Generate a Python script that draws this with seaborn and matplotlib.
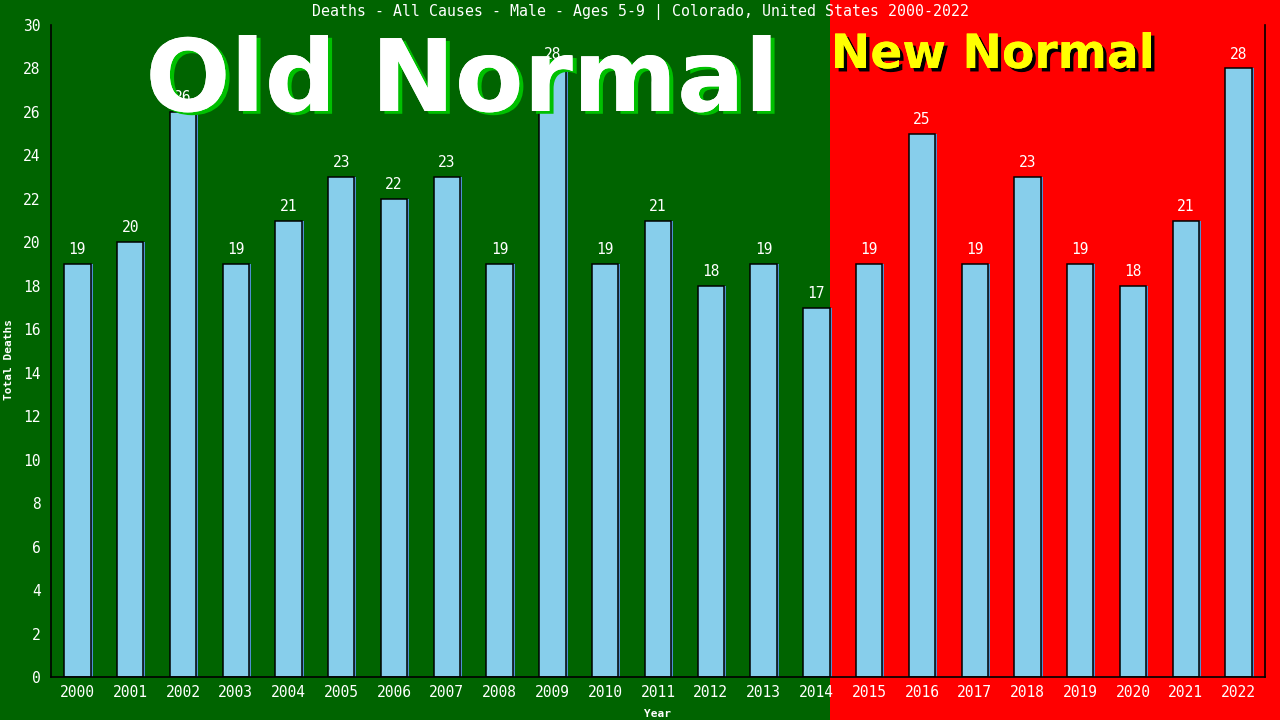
import matplotlib
matplotlib.use("Agg")
import matplotlib.pyplot as plt
import matplotlib.patheffects as pe
import matplotlib.transforms as mtransforms
from matplotlib.patches import Rectangle
import seaborn as sns
import pandas as pd

# data
years = [str(y) for y in range(2000, 2023)]
deaths = [19, 20, 26, 19, 21, 23, 22, 23, 19, 28, 19, 21, 18, 19, 17,
          19, 25, 19, 23, 19, 18, 21, 28]
title = "Deaths - All Causes - Male - Ages 5-9 | Colorado, United States 2000-2022"
split_year = "2014"

df = pd.DataFrame({"Year": years, "Deaths": deaths})

sns.set_style("white")
mono = ["DejaVu Sans Mono"]

fig = plt.figure(figsize=(12.8, 7.2), dpi=100)
fig.patch.set_facecolor("#006400")
ax = fig.add_axes([51 / 1280, 43 / 720, 1214 / 1280, 652 / 720])
ax.set_facecolor("none")

# shadow bars, shifted a couple of pixels right
sns.barplot(data=df, x="Year", y="Deaths", ax=ax, color="#4f8fd0",
            width=0.5, saturation=1, linewidth=0)
shift = mtransforms.ScaledTranslation(2 / 100, 0, fig.dpi_scale_trans)
for p in ax.patches:
    p.set_transform(ax.transData + shift)
n_shadow = len(ax.patches)
sns.barplot(data=df, x="Year", y="Deaths", ax=ax, color="#87CEEB",
            width=0.5, saturation=1, edgecolor="black", linewidth=1.1)
bars = ax.patches[n_shadow:]

ax.set_xlim(-0.5, len(years) - 0.5)
ax.set_ylim(0, 30)
ax.set_yticks(range(0, 31, 2))

# red "new normal" background from right after the split bar
split_idx = years.index(split_year)
trans = mtransforms.blended_transform_factory(ax.transData, fig.transFigure)
fig.patches.append(Rectangle((split_idx + 0.25, 0), 30, 1, transform=trans,
                             facecolor="#FF0000", edgecolor="none",
                             zorder=-1, figure=fig))

for b, v in zip(bars, deaths):
    ax.annotate(str(v), (b.get_x() + b.get_width() / 2, v),
                xytext=(0, 5), textcoords="offset points",
                ha="center", va="bottom", color="white",
                fontsize=10.5, family=mono)

for s in ["left", "bottom", "right"]:
    ax.spines[s].set_color("black")
    ax.spines[s].set_linewidth(1.2)
ax.spines["top"].set_visible(False)

ax.tick_params(axis="y", direction="inout", length=7, width=1, color="black",
               labelcolor="white", labelsize=10.5, pad=4)
ax.tick_params(axis="x", length=0, labelcolor="white", labelsize=10.5, pad=6)
for lab in ax.get_xticklabels() + ax.get_yticklabels():
    lab.set_family(mono)

ax.set_xlabel("Year", color="white", fontsize=8, family=mono,
              fontweight="bold", labelpad=6)
ax.set_ylabel("Total Deaths", color="white", fontsize=8, family=mono,
              fontweight="bold")
ax.yaxis.set_label_coords(14 / 1280, 0.5, transform=fig.transFigure)

fig.text(0.5, 1 - 12 / 720, title, ha="center", va="center",
         color="white", fontsize=10.7, family=mono)

fig.text(462 / 1280, 1 - 111 / 720, "Old Normal", ha="center",
         va="baseline", color="white", fontsize=72, fontweight="bold",
         family=["DejaVu Sans"],
         path_effects=[pe.withSimplePatchShadow(offset=(3, -2),
                                                shadow_rgbFace="#00c000",
                                                alpha=1), pe.Normal()])
fig.text(993 / 1280, 1 - 68 / 720, "New Normal", ha="center",
         va="baseline", color="#FFFF00", fontsize=34, fontweight="bold",
         family=["DejaVu Sans"],
         path_effects=[pe.withSimplePatchShadow(offset=(2.5, -2.5),
                                                shadow_rgbFace="black",
                                                alpha=1), pe.Normal()])

fig.savefig("out.png", dpi=100, facecolor=fig.get_facecolor())
